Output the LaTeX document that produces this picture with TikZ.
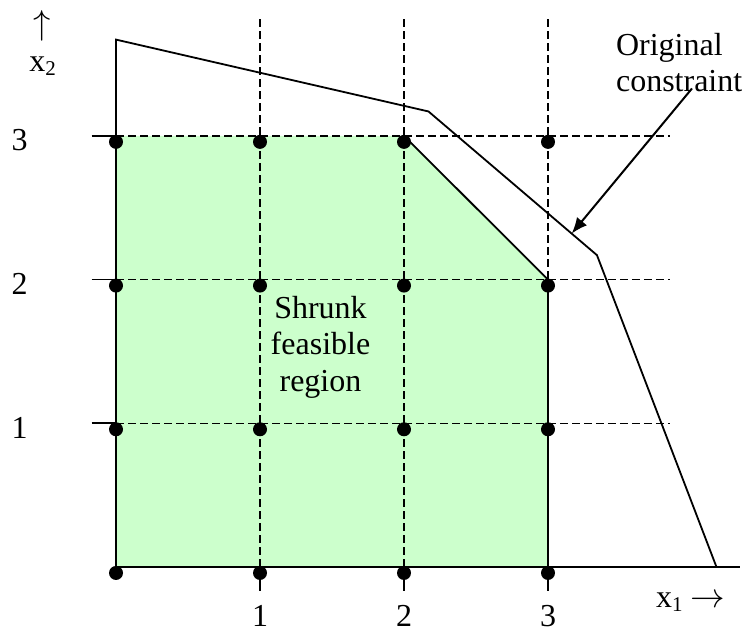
\documentclass[tikz,border=0pt]{standalone}
\usepackage{fontspec}
\setmainfont{Liberation Serif}
\usetikzlibrary{arrows.meta,calc}
\definecolor{shrunkgreen}{RGB}{204,255,204}
\newcommand{\lowsub}[1]{\raisebox{-2pt}{\fontsize{10.5}{10.5}\selectfont #1}}
\tikzset{
  axisline/.style={line width=0.9pt},
  gridline/.style={line width=0.75pt, dash pattern=on 4pt off 2pt},
  tickline/.style={line width=0.8pt},
  dot/.style={circle, fill=black, inner sep=0pt, minimum size=7pt, yshift=-3pt},
  lab/.style={inner sep=0pt, font=\fontsize{16}{18.3}\selectfont},
  pointer/.style={-{Latex[length=8pt,width=6.5pt]}, line width=1pt},
}

\begin{document}
\begin{tikzpicture}[x=72pt, y=71.85pt]
\useasboundingbox (-0.8056,-0.4454) rectangle (4.3542,3.9457);
% constraint corners
\coordinate (c0) at (0,3.67);
\coordinate (c1) at (2.17,3.17);
\coordinate (c2) at (3.34,2.17);
\coordinate (c3) at (4.17,0);
% shrunk region
\fill[shrunkgreen] (0,0) -- (3,0) -- (3,2) -- (2,3) -- (0,3) -- cycle;
% grid
\draw[gridline] (1,0) -- (1,3.84);
\draw[gridline] (2,0) -- (2,3.84);
\draw[gridline] (3,0) -- (3,3.84);
\draw[gridline] (0,1) -- (3.85,1);
\draw[gridline] (0,2) -- (3.85,2);
\draw[gridline] (0,3) -- (3.85,3);
% ticks
\draw[tickline] (-0.17,1) -- (0,1);
\draw[tickline] (-0.17,2) -- (0,2);
\draw[tickline] (-0.17,3) -- (0,3);
\draw[tickline] (1,0) -- (1,-0.165);
\draw[tickline] (2,0) -- (2,-0.165);
\draw[tickline] (3,0) -- (3,-0.165);
% axes and original constraint
\draw[axisline] (0,0) -- (4.33,0);
\draw[axisline] (0,0) -- (c0) -- (c1) -- (c2) -- (c3);
\draw[axisline] (3,0) -- (3,2) -- (2,3);
% integer points
\node[dot] (d00) at (0,0) {}; \node[dot] (d10) at (1,0) {}; \node[dot] (d20) at (2,0) {}; \node[dot] (d30) at (3,0) {};
\node[dot] (d01) at (0,1) {}; \node[dot] (d11) at (1,1) {}; \node[dot] (d21) at (2,1) {}; \node[dot] (d31) at (3,1) {};
\node[dot] (d02) at (0,2) {}; \node[dot] (d12) at (1,2) {}; \node[dot] (d22) at (2,2) {}; \node[dot] (d32) at (3,2) {};
\node[dot] (d03) at (0,3) {}; \node[dot] (d13) at (1,3) {}; \node[dot] (d23) at (2,3) {}; \node[dot] (d33) at (3,3) {};
% axis labels
\node[lab] (ylab1) at (-0.67,0.97) {1};
\node[lab] (ylab2) at (-0.67,1.97) {2};
\node[lab] (ylab3) at (-0.67,2.97) {3};
\node[lab] (xlab1) at (1,-0.34) {1};
\node[lab] (xlab2) at (2,-0.34) {2};
\node[lab] (xlab3) at (3,-0.34) {3};
\node[lab, anchor=base] (xname) at (3.99,-0.28) {x\lowsub{1} $\rightarrow$};
\node[lab] (yarrow) at (-0.51,3.765) {$\uparrow$};
\node[lab, anchor=base] (yname) at (-0.51,3.445) {x\lowsub{2}};
% texts
\node[lab, align=center] (shrunk) at (1.42,1.53) {Shrunk\\feasible\\region};
\node[lab, align=left, anchor=north west] (orig) at (3.47,3.72) {Original\\constraint};
% pointer
\coordinate (tail) at (4.0,3.33);
\coordinate (hit) at ($(c1)!0.85!(c2)$);
\draw[pointer] (tail) -- (hit);
\end{tikzpicture}
\end{document}
